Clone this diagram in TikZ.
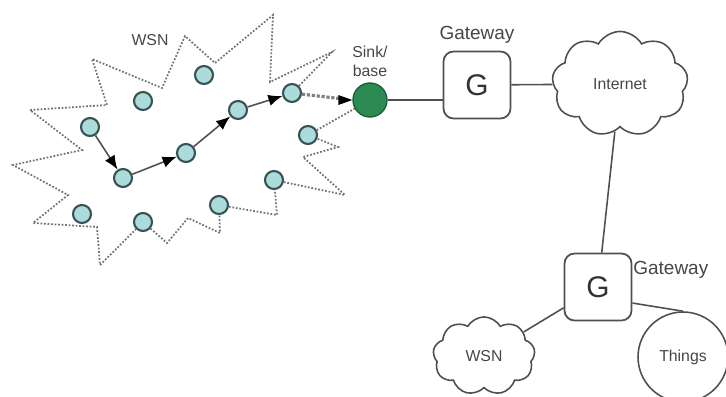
\documentclass[tikz,border=0pt]{standalone}
\usepackage{fontspec}
\setmainfont{Liberation Sans}
\usepackage{tikz}
\usetikzlibrary{arrows.meta}
\usetikzlibrary{shapes.symbols}

\definecolor{sensorfill}{RGB}{172,219,219}
\definecolor{sensorline}{RGB}{55,82,84}
\definecolor{sinkfill}{RGB}{44,138,82}
\definecolor{sinkline}{RGB}{32,96,60}
\definecolor{textgray}{RGB}{70,70,70}
\definecolor{wiregray}{RGB}{80,80,80}

\begin{document}
\begin{tikzpicture}[x=0.02cm,y=-0.02cm]
        \tikzset{sensor/.style = {circle,fill=sensorfill,draw=sensorline,line width=1.2pt,minimum size=0.36cm,inner sep=0pt}}
        \tikzset{sinknode/.style = {circle,fill=sinkfill,draw=sinkline,line width=0.8pt,minimum size=0.68cm,inner sep=0pt}}
        \tikzset{gate/.style = {draw=wiregray,line width=1pt,rounded corners=0.2cm,minimum size=1.34cm,inner sep=0pt,text=black!80,font=\fontsize{17}{20}\selectfont}}
        \tikzset{netcloud/.style = {cloud,cloud puffs=9,cloud puff arc=120,draw=wiregray,line width=0.9pt,text=textgray,font=\fontsize{9}{11}\selectfont}}
        \tikzset{lbl/.style = {text=textgray,font=\fontsize{9}{11}\selectfont,inner sep=0pt}}
        \tikzset{gwlbl/.style = {text=textgray,font=\fontsize{10.8}{13}\selectfont,inner sep=0pt}}
        \tikzset{hop/.style = {-{Latex[length=8pt,width=6.5pt,color=black]},line width=0.9pt,draw=wiregray}}
        \tikzset{border/.style = {densely dotted,line width=1pt,draw=black!55}}
        \tikzset{edge/.style = {-,line width=0.9pt,draw=wiregray}}

        \useasboundingbox (0,0) rectangle (726,396);
        \clip (0,0) rectangle (726,396);

        % sensor field
        \node[sensor] (n1) at (90,127) {};
        \node[sensor] (n2) at (123,178) {};
        \node[sensor] (n3) at (186,153) {};
        \node[sensor] (n4) at (238,110) {};
        \node[sensor] (n5) at (292,93) {};
        \node[sensor] (n6) at (143,101) {};
        \node[sensor] (n7) at (204,75) {};
        \node[sensor] (n8) at (308,135) {};
        \node[sensor] (n9) at (274,180) {};
        \node[sensor] (n10) at (219,205) {};
        \node[sensor] (n11) at (143,222) {};
        \node[sensor] (n12) at (82,214) {};

        \node[sinknode, label={[lbl,align=center,yshift=3pt]above:{Sink/\\base}}] (sink) at (370,100) {};
        \node[lbl] (wsnlbl) at (150,40) {WSN};

        % outline of the field
        \coordinate (s1) at (92,59);
        \coordinate (s2) at (162,88);
        \coordinate (s3) at (185,36);
        \coordinate (s4) at (215,63);
        \coordinate (s5) at (273,15);
        \coordinate (s6) at (270,82);
        \coordinate (s7) at (332,52);
        \coordinate (s8) at (338,147);
        \coordinate (s9) at (303,157);
        \coordinate (s10) at (345,195);
        \coordinate (s11) at (277,215);
        \coordinate (s12) at (220,233);
        \coordinate (s13) at (188,218);
        \coordinate (s14) at (167,243);
        \coordinate (s15) at (100,265);
        \coordinate (s16) at (97,227);
        \coordinate (s17) at (33,223);
        \coordinate (s18) at (68,195);
        \coordinate (s19) at (13,165);
        \coordinate (s20) at (82,150);
        \coordinate (s21) at (30,110);
        \coordinate (s22) at (107,105);

        \draw[border] (n5) -- (s7) -- (s6) -- (s5) -- (s4) -- (s3) -- (s2) -- (s1)
            -- (s22) -- (s21) -- (s20) -- (s19) -- (s18) -- (s17) -- (s16) -- (s15) -- (n11);
        \draw[border] (n11) -- (s14) -- (s13) -- (s12) -- (n10);
        \draw[border] (n10) -- (s11) -- (n9);
        \draw[border] (n9) -- (s10) -- (s9) -- (s8) -- (n8);
        \draw[border] (n8) -- (sink);

        % route to the sink
        \draw[hop] (n1) to (n2);
        \draw[hop] (n2) to (n3);
        \draw[hop] (n3) to (n4);
        \draw[hop] (n4) to (n5);
        \draw[densely dotted,line width=1.8pt,draw=gray,shorten >=0.24cm] (n5) to (sink.west);
        \fill[black] (sink.west) -- ++(-14,-5) -- ++(0,10) -- cycle;

        % gateways and networks
        \node[gate, label={[gwlbl,yshift=4pt]above:Gateway}] (g1) at (477,85) {G};
        \node[netcloud, minimum width=2.72cm, minimum height=2.04cm] (inet) at (620,84) {Internet};
        \node[gate] (g2) at (598,287) {G};
        \node[gwlbl, anchor=west] (gw2lbl) at (633,270) {Gateway};
        \node[netcloud, minimum width=2.04cm, minimum height=1.54cm] (wsn2) at (484,356) {WSN};
        \node[circle, draw=wiregray, line width=0.9pt, minimum size=1.8cm, lbl] (things) at (683,357) {Things};

        \draw[edge] (sink) to (sink -| g1.west);
        \draw[edge] (g1) to (inet);
        \draw[edge] (inet) to (g2);
        \draw[edge] (g2) to (wsn2);
        \draw[edge] (g2.-25) to (things.north);
\end{tikzpicture}
\end{document}
